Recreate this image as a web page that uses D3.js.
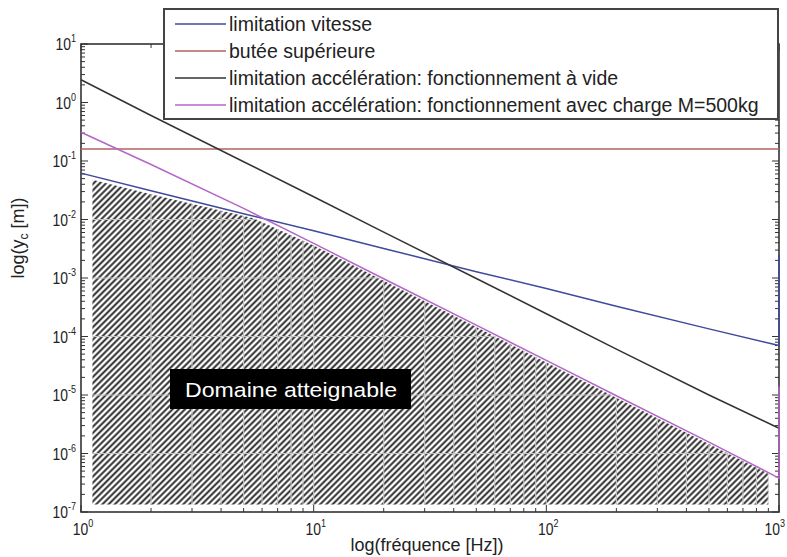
<!DOCTYPE html>
<html>
<head>
<meta charset="utf-8">
<script src="https://cdn.jsdelivr.net/npm/d3@7"></script>
<style>
  body { margin: 0; background: #fff; }
  svg { font-family: "Liberation Sans", Arial, sans-serif; }
</style>
</head>
<body>
<svg width="787" height="557"></svg>
<script>
// values
const freq = [1, 2, 5, 10, 20, 50, 100, 200, 500, 1000]
const vitesse = [0.062, 0.031, 0.0125, 0.0064, 0.0032, 0.00128, 0.00066, 0.00033, 0.000135, 0.00007]
const vitesseEnd = [1000, 0.0025]
const butee = [0.16, 0.16, 0.16, 0.16, 0.16, 0.16, 0.16, 0.16, 0.16, 0.16]
const aVide = [2.45, 0.6, 0.097, 0.0245, 0.0061, 0.00098, 0.000245, 0.000061, 0.00001, 0.0000027]
const avecCharge = [0.31, 0.087, 0.0155, 0.0039, 0.00097, 0.000156, 0.000039, 0.0000097, 0.00000156, 0.00000038]
const chargeEnd = [1000, 0.000014]
const hatchF = [1.12, 2, 5.5, 10, 20, 50, 100, 200, 500, 900]
const hatchTop = [0.048, 0.027, 0.0105, 0.0036, 0.0009, 0.000145, 0.000036, 0.000009, 0.00000145, 0.00000045]
const hatchFloor = 1.35e-7
const xDecades = [0, 1, 2, 3]
const yDecades = [-7, -6, -5, -4, -3, -2, -1, 0, 1]
const legendLabels = [
  "limitation vitesse",
  "butée supérieure",
  "limitation accélération: fonctionnement à vide",
  "limitation accélération: fonctionnement avec charge M=500kg"
]
const colors = ["#3f4a9c", "#b5625f", "#333333", "#b566c8"]

const svg = d3.select("svg")
const pLeft = 81, pRight = 779, pTop = 44, pBottom = 512

const x = d3.scaleLog().domain([1, 1000]).range([pLeft, pRight])
const y = d3.scaleLog().domain([1e-7, 10]).range([pBottom, pTop])

const defs = svg.append("defs")
const pat = defs.append("pattern")
  .attr("id", "hatch")
  .attr("patternUnits", "userSpaceOnUse")
  .attr("width", 4.4).attr("height", 4.4)
  .attr("patternTransform", "rotate(45)")
pat.append("rect").attr("width", 4.4).attr("height", 4.4).attr("fill", "#fff")
pat.append("line")
  .attr("x1", 2.2).attr("y1", -1).attr("x2", 2.2).attr("y2", 6)
  .attr("stroke", "#222").attr("stroke-width", 1.9)

// hatched region
const hatchPts = hatchF.map((f, i) => [f, hatchTop[i]])
hatchPts.push([hatchF[hatchF.length - 1], hatchFloor])
hatchPts.push([hatchF[0], hatchFloor])
const area = d3.line().x(d => x(d[0])).y(d => y(d[1]))

defs.append("clipPath").attr("id", "hclip")
  .append("path").attr("d", area(hatchPts) + "Z")

svg.append("path")
  .attr("d", area(hatchPts) + "Z")
  .attr("fill", "url(#hatch)")

// grid, only visible over the hatching
const minorX = []
xDecades.slice(0, 3).forEach(e => {
  for (let k = 1; k < 10; k++) minorX.push(k * Math.pow(10, e))
})
minorX.push(1000)
const grid = svg.append("g").attr("clip-path", "url(#hclip)")
  .attr("stroke", "#c4c4c4").attr("stroke-width", 1.2)
minorX.forEach(f => {
  grid.append("line").attr("x1", x(f)).attr("x2", x(f)).attr("y1", pTop).attr("y2", pBottom)
})
yDecades.forEach(e => {
  grid.append("line").attr("x1", pLeft).attr("x2", pRight)
    .attr("y1", y(Math.pow(10, e))).attr("y2", y(Math.pow(10, e)))
})

// frame and ticks
svg.append("rect")
  .attr("x", pLeft).attr("y", pTop)
  .attr("width", pRight - pLeft).attr("height", pBottom - pTop)
  .attr("fill", "none").attr("stroke", "#333").attr("stroke-width", 1.6)

const ticks = svg.append("g").attr("stroke", "#333").attr("stroke-width", 1)
minorX.forEach(f => {
  const major = Math.abs(Math.log10(f) % 1) < 1e-9
  const len = major ? 7 : 4
  ticks.append("line").attr("x1", x(f)).attr("x2", x(f)).attr("y1", pBottom).attr("y2", pBottom - len)
  ticks.append("line").attr("x1", x(f)).attr("x2", x(f)).attr("y1", pTop).attr("y2", pTop + len)
})
yDecades.forEach(e => {
  const base = Math.pow(10, e)
  const ks = e < 1 ? [1, 2, 3, 4, 5, 6, 7, 8, 9] : [1]
  ks.forEach(k => {
    const v = k * base
    const len = k === 1 ? 7 : 4
    ticks.append("line").attr("x1", pLeft).attr("x2", pLeft + len).attr("y1", y(v)).attr("y2", y(v))
    ticks.append("line").attr("x1", pRight).attr("x2", pRight - len).attr("y1", y(v)).attr("y2", y(v))
  })
})

// curves (on top of the frame, the end drops show on the right axis)
const line = d3.line().x(d => x(d[0])).y(d => y(d[1]))
const series = [
  freq.map((f, i) => [f, vitesse[i]]).concat([vitesseEnd]),
  freq.map((f, i) => [f, butee[i]]),
  freq.map((f, i) => [f, aVide[i]]),
  freq.map((f, i) => [f, avecCharge[i]]).concat([chargeEnd])
]
series.forEach((s, i) => {
  svg.append("path")
    .attr("d", line(s))
    .attr("fill", "none")
    .attr("stroke", colors[i])
    .attr("stroke-width", 1.5)
})

// tick labels
function powLabel(g, px, py, e, anchor) {
  const t = g.append("text")
    .attr("transform", `translate(${px},${py}) scale(0.82,1)`)
    .attr("text-anchor", anchor)
    .attr("fill", "#222")
    .attr("font-size", 17)
  t.append("tspan").text("10")
  t.append("tspan").attr("dy", -8).attr("font-size", 11).text(e)
}
const lab = svg.append("g")
yDecades.forEach(e => powLabel(lab, 76, y(Math.pow(10, e)) + 6, e, "end"))
xDecades.forEach(e => {
  const px = e === 3 ? 785 : x(Math.pow(10, e)) + 2
  powLabel(lab, px, 535, e, e === 3 ? "end" : "middle")
})

// axis titles
svg.append("text")
  .attr("x", 427).attr("y", 551)
  .attr("text-anchor", "middle")
  .attr("font-size", 18).attr("fill", "#222")
  .text("log(fréquence [Hz])")

const yt = svg.append("text")
  .attr("transform", "translate(24,238) rotate(-90)")
  .attr("text-anchor", "middle")
  .attr("font-size", 18).attr("fill", "#222")
yt.append("tspan").text("log(y")
yt.append("tspan").attr("font-size", 12).attr("dy", 4).text("c")
yt.append("tspan").attr("dy", -4).text(" [m])")

// legend
const lg = svg.append("g")
lg.append("rect")
  .attr("x", 164).attr("y", 9).attr("width", 614).attr("height", 110)
  .attr("fill", "#fff").attr("stroke", "#444").attr("stroke-width", 2)
legendLabels.forEach((d, i) => {
  const ly = 24 + i * 27
  lg.append("line").attr("x1", 175).attr("x2", 226).attr("y1", ly).attr("y2", ly)
    .attr("stroke", colors[i]).attr("stroke-width", 1.5)
  lg.append("text").attr("x", 229).attr("y", ly + 6.5)
    .attr("font-size", 19.5).attr("fill", "#222").text(d)
})

// annotation
svg.append("rect")
  .attr("x", 170).attr("y", 369).attr("width", 241).attr("height", 40)
  .attr("fill", "#000")
svg.append("text")
  .attr("x", 185).attr("y", 397)
  .attr("font-size", 21).attr("fill", "#fff")
  .attr("textLength", 212).attr("lengthAdjust", "spacingAndGlyphs")
  .text("Domaine atteignable")
</script>
</body>
</html>
